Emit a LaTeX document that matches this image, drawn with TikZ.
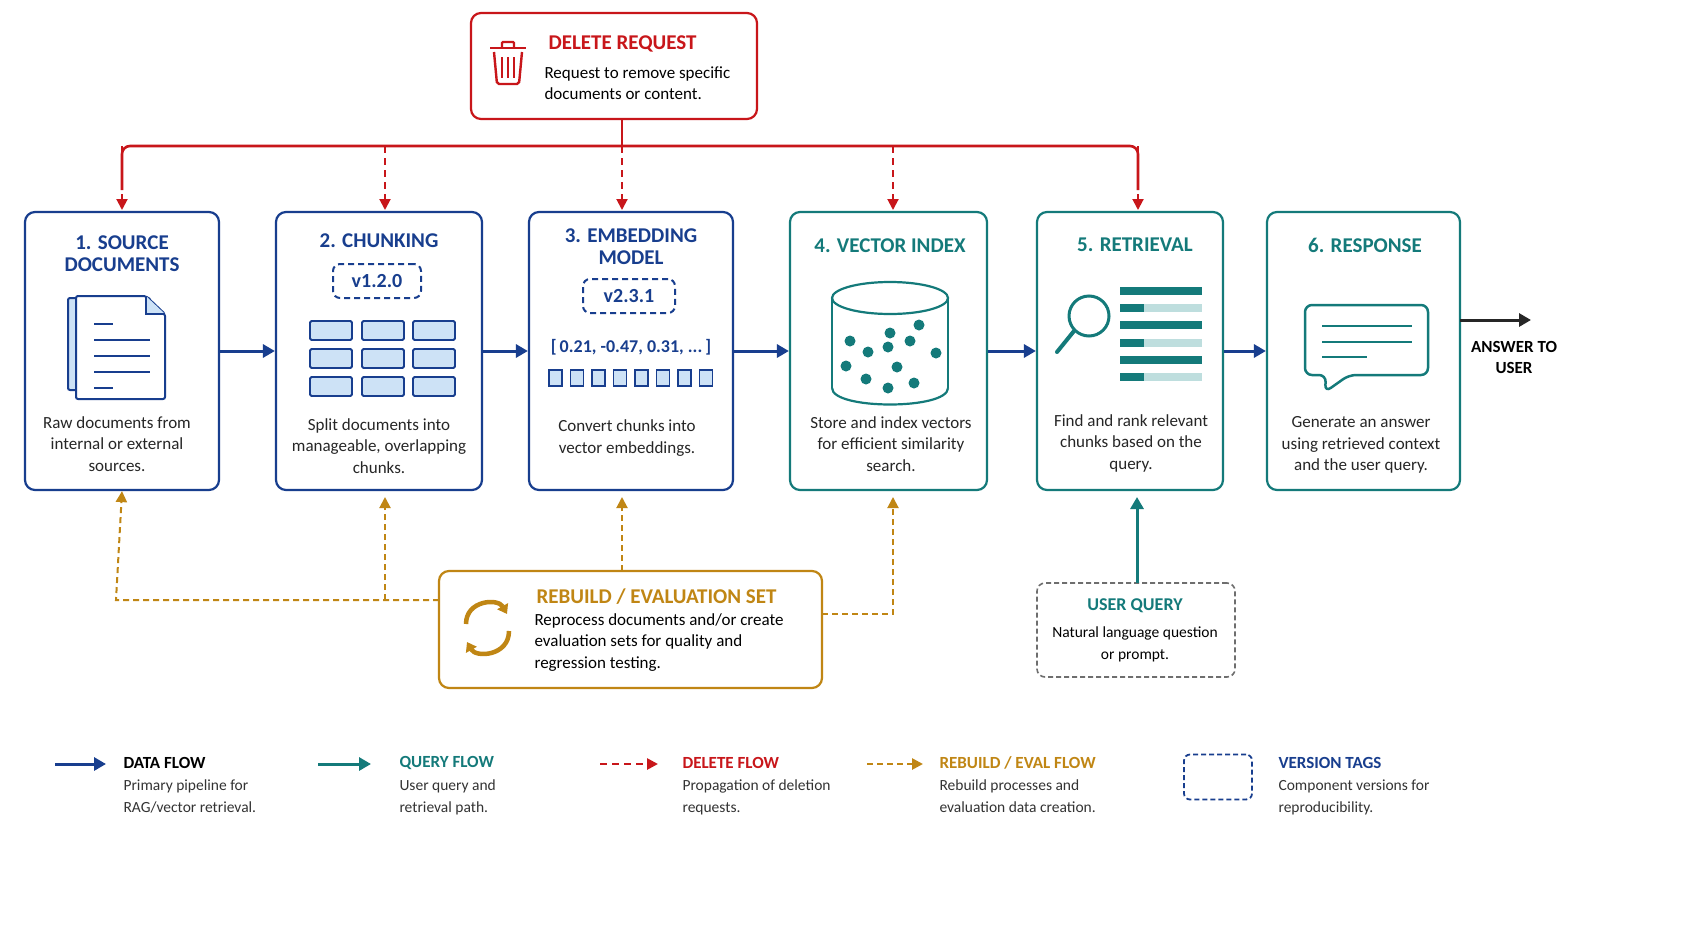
\documentclass[tikz,border=0pt]{standalone}
\usepackage{fontspec}
\setmainfont{Carlito}
\usetikzlibrary{arrows.meta}
\definecolor{navy}{RGB}{24,62,142}
\definecolor{teal2}{RGB}{20,122,122}
\definecolor{dred}{RGB}{200,22,26}
\definecolor{gold}{RGB}{192,134,20}
\definecolor{lblue}{RGB}{205,226,246}
\definecolor{lteal}{RGB}{190,222,222}
\definecolor{gray2}{RGB}{110,110,110}
\tikzset{
 box/.style={draw,line width=2.2pt,rounded corners=10pt,fill=white},
 ttl/.style={font=\bfseries\fontsize{21}{22}\selectfont,align=center},
 desc/.style={font=\fontsize{17}{21.5}\selectfont,align=center,text=black!85},
 flow/.style={line width=3pt,navy,-{Triangle[length=12pt,width=13pt]}},
 qflow/.style={line width=3pt,teal2,-{Triangle[length=12pt,width=13pt]}},
 dflow/.style={line width=2pt,dred,dashed,dash pattern=on 7pt off 5pt,-{Triangle[length=11pt,width=11pt]}},
 rflow/.style={line width=2pt,gold,dash pattern=on 6pt off 4pt,-{Triangle[length=11pt,width=11pt]}},
 tag/.style={draw=navy,line width=2pt,dash pattern=on 6pt off 4pt,rounded corners=7pt,minimum width=88pt,minimum height=34pt,font=\bfseries\fontsize{20}{22}\selectfont,text=navy},
 legt/.style={anchor=west,font=\bfseries\fontsize{17}{20}\selectfont},
 legd/.style={anchor=north west,align=left,font=\fontsize{15.5}{22}\selectfont,text=black!80},
}
\begin{document}
\begin{tikzpicture}[x=1pt,y=-1pt]
\useasboundingbox[fill=white] (0,0) rectangle (1693,929);
% delete request
\node[box,draw=dred,minimum width=286pt,minimum height=106pt] (del) at (614,66) {};
\coordinate (dels) at (622,119);
\node[anchor=west,font=\bfseries\fontsize{21}{22}\selectfont,text=dred] at (545,44) {DELETE REQUEST};
\node[anchor=north west,align=left,font=\fontsize{17}{21.5}\selectfont] at (541,63) {Request to remove specific\\documents or content.};
% trash icon
\begin{scope}[dred,line width=2.4pt]
\draw[rounded corners=2pt] (494,52)--(497,84)--(519,84)--(522,52);
\draw (490,48)--(526,48);
\draw[rounded corners=1pt] (502,48)--(502,42)--(514,42)--(514,48);
\draw (502,57)--(502,78) (508,57)--(508,78) (514,57)--(514,78);
\end{scope}
% main boxes
\node[box,draw=navy,minimum width=194pt,minimum height=278pt] (b1) at (122,351) {};
\node[box,draw=navy,minimum width=206pt,minimum height=278pt] (b2) at (379,351) {};
\node[box,draw=navy,minimum width=204pt,minimum height=278pt] (b3) at (631,351) {};
\node[box,draw=teal2,minimum width=197pt,minimum height=278pt] (b4) at (888.5,351) {};
\node[box,draw=teal2,minimum width=186pt,minimum height=278pt] (b5) at (1130,351) {};
\node[box,draw=teal2,minimum width=193pt,minimum height=278pt] (b6) at (1363.5,351) {};
% titles
\node[ttl,text=navy] at (122,254) {1. SOURCE\\DOCUMENTS};
\node[ttl,text=navy] at (379,241) {2. CHUNKING};
\node[ttl,text=navy] at (631,247) {3. EMBEDDING\\MODEL};
\node[ttl,text=teal2] at (890,246) {4. VECTOR INDEX};
\node[ttl,text=teal2] at (1135,245) {5. RETRIEVAL};
\node[ttl,text=teal2] at (1365,245) {6. RESPONSE};
% descriptions
\node[desc] at (117,444) {Raw documents from\\internal or external\\sources.};
\node[desc] at (379,446) {Split documents into\\manageable, overlapping\\chunks.};
\node[desc] at (627,438) {Convert chunks into\\vector embeddings.};
\node[desc] at (891,444) {Store and index vectors\\for efficient similarity\\search.};
\node[desc] at (1131,443) {Find and rank relevant\\chunks based on the\\query.};
\node[desc] at (1361,445) {Generate an answer\\using retrieved context\\and the user query.};
% version tags
\node[tag] (t1) at (377,281) {v1.2.0};
\node[tag,minimum width=92pt] (t2) at (629,296) {v2.3.1};
% doc icon
\begin{scope}[navy,line width=2pt]
\draw[fill=lblue,rounded corners=2pt] (68,298) rectangle (150,390);
\draw[fill=white,rounded corners=2pt] (76,296)--(146,296)--(165,314)--(165,399)--(76,399)--cycle;
\draw[fill=lblue] (146,296)--(146,314)--(165,314);
\draw (94,324)--(113,324) (94,340)--(150,340) (94,356)--(150,356) (94,372)--(150,372) (94,388)--(113,388);
\end{scope}
% chunk grid
\foreach \x in {310,362,413}\foreach \y in {321,349,377}
 \draw[navy,line width=1.8pt,fill=lblue,rounded corners=1.5pt] (\x,\y) rectangle ++(42,19);
% embedding
\node[font=\bfseries\fontsize{18}{20}\selectfont,text=navy] at (631,347) {[\,0.21, -0.47, 0.31, ...\,]};
\foreach \i in {0,...,7}
 \draw[navy,line width=1.8pt,fill=lblue] (549+\i*21.5,370) rectangle ++(13,16);
% cylinder
\begin{scope}[teal2,line width=2.2pt]
\draw (832,298)--(832,388) (948,298)--(948,388);
\draw (832,388) .. controls (832,410) and (948,410) .. (948,388);
\draw (890,298) ellipse[x radius=58,y radius=16];
\foreach \p in {(919,325),(890,333),(850,341),(868,352),(888,347),(910,341),(936,353),(897,367),(846,366),(866,379),(914,383),(888,388)}
 \fill \p circle (5.5pt);
\end{scope}
% magnifier + bars
\begin{scope}[teal2]
\draw[line width=3pt] (1089,316) circle (20pt);
\draw[line width=4pt,line cap=round] (1074,331)--(1057,352);
\foreach \y/\f in {291/1,308/0,325/1,343/0,360/1,377/0}{
 \ifnum\f=1 \fill (1120,\y-4) rectangle (1202,\y+4);
 \else \fill[lteal] (1120,\y-4) rectangle (1202,\y+4); \fill (1120,\y-4) rectangle (1144,\y+4); \fi}
\end{scope}
% speech bubble
\draw[teal2,line width=2.5pt,rounded corners=7pt] (1305,305)--(1428,305)--(1428,375)--(1349,375)--(1325,392)--(1326,375)--(1305,375)--cycle;
\draw[teal2,line width=2.2pt] (1322,326)--(1412,326) (1322,342)--(1412,342) (1322,357)--(1367,357);
% data flow arrows
\draw[flow] (b1.east) -- (b2.west);
\draw[flow] (b2.east) -- (b3.west);
\draw[flow] (b3.east) -- (b4.west);
\draw[flow] (b4.east) -- (b5.west);
\draw[flow] (b5.east) -- (b6.west);
\coordinate (ans) at (1531,320);
\draw[line width=3pt,black!85,-{Triangle[length=12pt,width=13pt]}] (1460,320) -- (ans);
\node[font=\bfseries\fontsize{17}{21}\selectfont,align=center] at (1514,357) {ANSWER TO\\USER};
% delete flow
\draw[line width=2.6pt,dred] (dels) -- (622,146);
\draw[line width=2.6pt,dred,rounded corners=8pt] (122,190)--(122,146)--(1138,146)--(1138,190);
\foreach \x in {122,385,622,893,1138}
 \draw[dflow] (\x,146) -- (\x,210);
% rebuild
\node[box,draw=gold,minimum width=383pt,minimum height=117pt] (reb) at (630.5,629.5) {};
\coordinate (rebn) at (622,571);
\node[anchor=west,font=\bfseries\fontsize{21}{22}\selectfont,text=gold] at (533,597) {REBUILD / EVALUATION SET};
\node[anchor=north west,align=left,font=\fontsize{17}{21.5}\selectfont] at (531,610) {Reprocess documents and/or create\\evaluation sets for quality and\\regression testing.};
\begin{scope}[gold,line width=4.5pt]
\draw[-{Triangle[length=9pt,width=12pt]}] (466,624) .. controls (466,600) and (498,598) .. (507,614);
\draw[-{Triangle[length=9pt,width=12pt]}] (509,631) .. controls (509,656) and (476,658) .. (467,642);
\end{scope}
\draw[rflow] (439,600) -- (116,600) -- (b1.south);
\draw[rflow] (385,600) -- (385,497);
\draw[rflow] (rebn) -- (622,497);
\draw[rflow] (822,614) -- (893,614) -- (893,497);
% user query
\node[draw=gray2,line width=1.6pt,dash pattern=on 5pt off 3pt,rounded corners=8pt,minimum width=198pt,minimum height=94pt] (uq) at (1136,630) {};
\node[font=\bfseries\fontsize{18}{20}\selectfont,text=teal2] at (1135,606) {USER QUERY};
\node[align=center,font=\fontsize{15.5}{22}\selectfont] at (1135,644) {Natural language question\\or prompt.};
\draw[qflow] (1137,583) -- (1137,497);
% legend
\coordinate (l1a) at (55,764); \coordinate (l1b) at (106,764);
\draw[flow] (l1a) -- (l1b);
\coordinate (l2a) at (318,764); \coordinate (l2b) at (371,764);
\draw[qflow] (l2a) -- (l2b);
\coordinate (l3a) at (600,764); \coordinate (l3b) at (658,764);
\draw[dflow,line width=2.6pt] (l3a) -- (l3b);
\coordinate (l4a) at (867,764); \coordinate (l4b) at (923,764);
\draw[rflow,line width=2.6pt] (l4a) -- (l4b);
\node[draw=navy,line width=1.8pt,dash pattern=on 5pt off 3pt,rounded corners=6pt,minimum width=68pt,minimum height=45pt] (lv) at (1218,777) {};
\node[legt] at (120,763) {DATA FLOW};
\node[legd] at (120,776) {Primary pipeline for\\RAG/vector retrieval.};
\node[legt,text=teal2] at (396,763) {QUERY FLOW};
\node[legd] at (396,776) {User query and\\retrieval path.};
\node[legt,text=dred] at (679,763) {DELETE FLOW};
\node[legd] at (679,776) {Propagation of deletion\\requests.};
\node[legt,text=gold] at (936,763) {REBUILD / EVAL FLOW};
\node[legd] at (936,776) {Rebuild processes and\\evaluation data creation.};
\node[legt,text=navy] at (1275,763) {VERSION TAGS};
\node[legd] at (1275,776) {Component versions for\\reproducibility.};
\end{tikzpicture}
\end{document}
